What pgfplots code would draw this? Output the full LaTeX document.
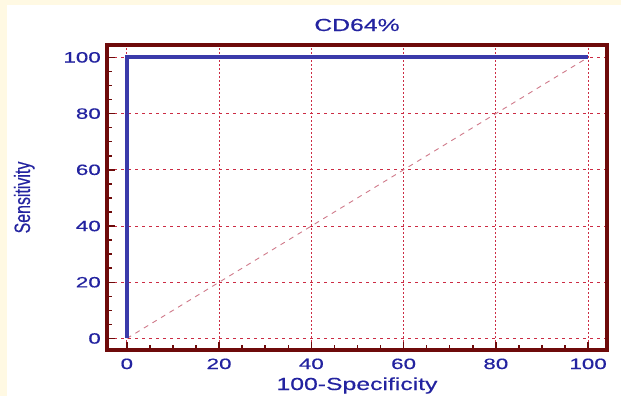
\documentclass[border=0pt]{standalone}
\usepackage{graphicx}
\usepackage{pgfplots}
\pgfplotsset{compat=1.18}
\usepackage{fontspec}
\setmainfont{Liberation Sans}[FakeBold=0.3]
\newfontfamily\tickfont{Liberation Sans}[FakeStretch=1.5,FakeBold=0.4]
\newfontfamily\labfont{Liberation Sans}[FakeStretch=1.42,FakeBold=0.4]
\newfontfamily\ylabfont{Liberation Sans}[FakeBold=0.4]
\definecolor{cream}{HTML}{FFF9E3}
\definecolor{framered}{HTML}{6E0A0A}
\definecolor{gridred}{HTML}{CC2C44}
\definecolor{rocblue}{HTML}{3A3AAA}
\definecolor{txtblue}{HTML}{2323A0}
\definecolor{diagpink}{HTML}{D07A8A}
\begin{document}
\begin{tikzpicture}
\useasboundingbox (0,0) rectangle (621bp,396bp);
\fill[white] (0,0) rectangle (621bp,396bp);
\fill[cream] (0,0) rectangle (7bp,396bp);
\fill[cream] (0,391bp) rectangle (621bp,396bp);
\begin{axis}[
  at={(107bp,46bp)}, anchor=south west,
  scale only axis, width=500bp, height=305bp,
  xmin=-4.3, xmax=104.1, ymin=-4.1, ymax=104.4,
  xtick={0,20,40,60,80,100}, ytick={0,20,40,60,80,100},
  minor x tick num=3, minor y tick num=3,
  tick pos=left, tick align=inside,
  major tick length=8bp, minor tick length=5bp,
  every tick/.style={framered, line width=1.5bp},
  axis line style={framered, line width=3.5bp},
  grid=major,
  major x grid style={gridred, line width=1bp, dash pattern=on 1.5bp off 2.5bp},
  major y grid style={gridred, line width=1bp, dash pattern=on 3bp off 4bp},
  /pgf/number format/assume math mode=true,
  ticklabel style={font=\tickfont\fontsize{15}{15}\selectfont, text=txtblue},
  xticklabel style={anchor=base, inner sep=0pt, yshift=-19bp},
  yticklabel style={anchor=east, inner sep=0pt, xshift=-6bp},
  title={CD64\%},
  title style={font=\labfont\fontsize{17.5}{18}\selectfont, text=txtblue,
    at={(axis description cs:0.5,1)}, anchor=base, yshift=8bp},
  xlabel={100-Specificity},
  every axis x label/.style={font=\labfont\fontsize{17.5}{18}\selectfont, text=txtblue,
    at={(axis description cs:0.5,0)}, anchor=base, yshift=-40bp},
  ylabel={\scalebox{1}[1.4]{Sensitivity}},
  every axis y label/.style={font=\ylabfont\fontsize{16}{16}\selectfont, text=txtblue,
    at={(axis description cs:0,0.5)}, anchor=base, xshift=-77bp, rotate=90},
]
\addplot[diagpink, line width=0.9bp, dash pattern=on 5bp off 5bp] coordinates {(0,0) (100,100)};
\addplot[rocblue, line width=3.8bp, line join=miter] coordinates {(0,0) (0,100) (100,100)};
\end{axis}
\end{tikzpicture}
\end{document}
